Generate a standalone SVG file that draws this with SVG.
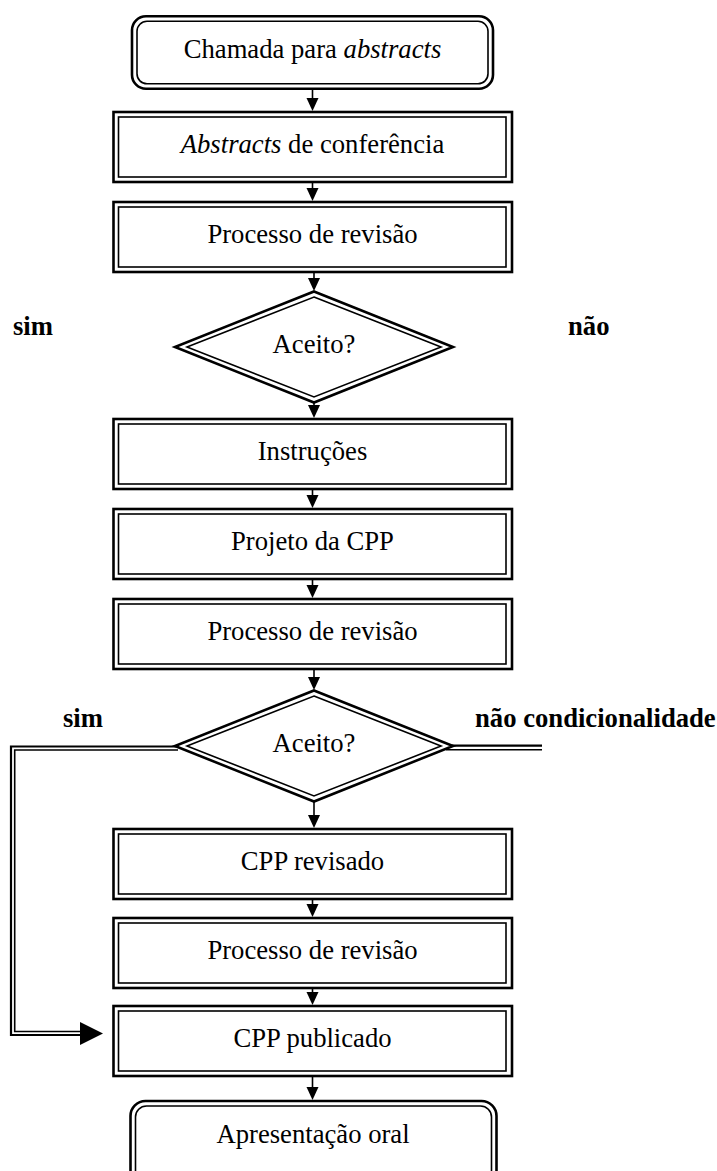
<svg xmlns="http://www.w3.org/2000/svg" width="717" height="1171" viewBox="0 0 717 1171">
<style>
  .o{fill:none;stroke:#000;stroke-width:2.6}
  .i{fill:none;stroke:#000;stroke-width:1.6}
  .t{font-family:"Liberation Serif","Times New Roman",serif;font-size:26.67px;fill:#000;text-anchor:middle}
  .b{font-family:"Liberation Serif","Times New Roman",serif;font-size:26.67px;font-weight:bold;fill:#000}
  .ln{stroke:#000;stroke-width:1.6;fill:none}
  .ah{fill:#000}
  .c1{fill:none;stroke:#000;stroke-width:2.2}
  .c2{fill:none;stroke:#000;stroke-width:1.6}
</style>
<rect width="717" height="1171" fill="#fff"/>

<g id="connectors">
  <line class="ln" x1="312.5" y1="90" x2="312.5" y2="99"/><polygon class="ah" points="306.5,98 318.5,98 312.5,111"/>
  <line class="ln" x1="312.5" y1="183" x2="312.5" y2="189"/><polygon class="ah" points="306.5,188 318.5,188 312.5,201"/>
  <line class="ln" x1="314" y1="273" x2="314" y2="279"/><polygon class="ah" points="308,278 320,278 314,291"/>
  <line class="ln" x1="314" y1="403" x2="314" y2="406"/><polygon class="ah" points="308,405 320,405 314,418"/>
  <line class="ln" x1="312.5" y1="490" x2="312.5" y2="496"/><polygon class="ah" points="306.5,495 318.5,495 312.5,508"/>
  <line class="ln" x1="312.5" y1="580" x2="312.5" y2="586"/><polygon class="ah" points="306.5,585 318.5,585 312.5,598"/>
  <line class="ln" x1="314" y1="670" x2="314" y2="678"/><polygon class="ah" points="308,677 320,677 314,690"/>
  <line class="ln" x1="314" y1="802" x2="314" y2="816"/><polygon class="ah" points="308,815 320,815 314,828"/>
  <line class="ln" x1="312.5" y1="900" x2="312.5" y2="905"/><polygon class="ah" points="306.5,904 318.5,904 312.5,917"/>
  <line class="ln" x1="312.5" y1="989" x2="312.5" y2="993"/><polygon class="ah" points="306.5,992 318.5,992 312.5,1005"/>
  <line class="ln" x1="312.5" y1="1077" x2="312.5" y2="1088"/><polygon class="ah" points="306.5,1087 318.5,1087 312.5,1100"/>
  <!-- sim branch (left) -->
  <path class="c1" d="M176,746.5 H11 V1035 H85"/>
  <path class="c2" d="M178,750 H14.7 V1031.5 H85"/>
  <polygon class="ah" points="80,1022 80,1045 103,1033.5"/>
  <!-- nao condicionalidade branch (right) -->
  <line class="c1" x1="452" y1="745.7" x2="542" y2="745.7"/>
  <line class="c2" x1="446" y1="749.7" x2="542" y2="749.7"/>
</g>

<g id="n1">
  <rect class="o" x="132" y="16.3" width="361" height="72.5" rx="14"/>
  <rect class="i" x="137" y="21.3" width="351" height="62.5" rx="10"/>
  <text class="t" x="312.5" y="58">Chamada para <tspan font-style="italic">abstracts</tspan></text>
</g>
<g id="n2">
  <rect class="o" x="113.5" y="112" width="398.5" height="70"/>
  <rect class="i" x="118.5" y="117" width="387.5" height="60"/>
  <text class="t" x="312.5" y="152.5"><tspan font-style="italic">Abstracts</tspan> de conferência</text>
</g>
<g id="n3">
  <rect class="o" x="113.5" y="202" width="398.5" height="70"/>
  <rect class="i" x="118.5" y="207" width="387.5" height="60"/>
  <text class="t" x="312.5" y="242.5">Processo de revisão</text>
</g>
<g id="d1">
  <polygon class="o" points="314,291.5 453,347 314,402.5 175,347"/>
  <polygon class="i" points="314,297 441,347 314,397 187,347"/>
  <text class="t" x="314" y="353">Aceito?</text>
</g>
<g id="d1labels">
  <text class="b" x="13" y="335">sim</text>
  <text class="b" x="568" y="335">não</text>
</g>
<g id="n4">
  <rect class="o" x="113.5" y="419" width="398.5" height="70"/>
  <rect class="i" x="118.5" y="424" width="387.5" height="60"/>
  <text class="t" x="312.5" y="459.5">Instruções</text>
</g>
<g id="n5">
  <rect class="o" x="113.5" y="509" width="398.5" height="70"/>
  <rect class="i" x="118.5" y="514" width="387.5" height="60"/>
  <text class="t" x="312.5" y="549.5">Projeto da CPP</text>
</g>
<g id="n6">
  <rect class="o" x="113.5" y="599" width="398.5" height="70"/>
  <rect class="i" x="118.5" y="604" width="387.5" height="60"/>
  <text class="t" x="312.5" y="639.5">Processo de revisão</text>
</g>
<g id="d2">
  <polygon class="o" points="314,690.5 453,746 314,801.5 175,746"/>
  <polygon class="i" points="314,696 441,746 314,796 187,746"/>
  <text class="t" x="314" y="752">Aceito?</text>
</g>
<g id="d2labels">
  <text class="b" x="63" y="727">sim</text>
  <text class="b" x="475" y="727">não condicionalidade</text>
</g>
<g id="n7">
  <rect class="o" x="113.5" y="829" width="398.5" height="70"/>
  <rect class="i" x="118.5" y="834" width="387.5" height="60"/>
  <text class="t" x="312.5" y="869.5">CPP revisado</text>
</g>
<g id="n8">
  <rect class="o" x="113.5" y="918" width="398.5" height="70"/>
  <rect class="i" x="118.5" y="923" width="387.5" height="60"/>
  <text class="t" x="312.5" y="958.5">Processo de revisão</text>
</g>
<g id="n9">
  <rect class="o" x="113.5" y="1006" width="398.5" height="70"/>
  <rect class="i" x="118.5" y="1011" width="387.5" height="60"/>
  <text class="t" x="312.5" y="1047">CPP publicado</text>
</g>
<g id="n10">
  <rect class="o" x="130.5" y="1101" width="366" height="100" rx="15"/>
  <rect class="i" x="135.5" y="1106" width="356" height="90" rx="11"/>
  <text class="t" x="313" y="1143">Apresentação oral</text>
</g>
</svg>
